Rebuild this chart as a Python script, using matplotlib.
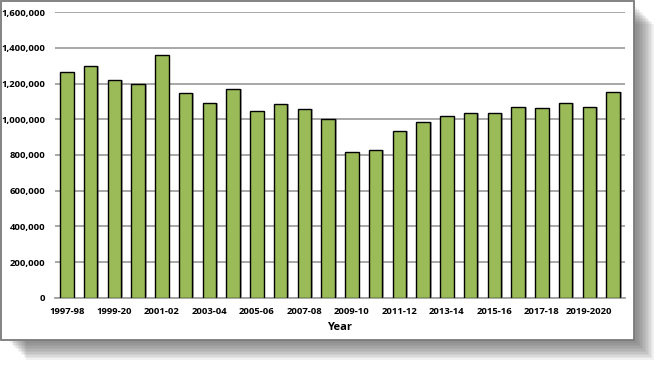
import matplotlib
matplotlib.use("Agg")
import matplotlib.pyplot as plt
from matplotlib.patches import Rectangle
from matplotlib.ticker import FuncFormatter, MultipleLocator

years = ["1997-98", "1998-99", "1999-20", "2000-01", "2001-02", "2002-03", "2003-04",
         "2004-05", "2005-06", "2006-07", "2007-08", "2008-09", "2009-10", "2010-11",
         "2011-12", "2012-13", "2013-14", "2014-15", "2015-16", "2016-17", "2017-18",
         "2018-19", "2019-2020", "2020-21"]
values = [1268000, 1298000, 1218000, 1197000, 1358000, 1150000, 1092000, 1168000,
          1044000, 1085000, 1060000, 1004000, 816000, 830000, 935000, 984000,
          1017000, 1035000, 1038000, 1068000, 1066000, 1090000, 1070000, 1152000]
shown_labels = years[::2]

W, H = 663, 367
fig = plt.figure(figsize=(W / 100, H / 100), dpi=100)
fig.patch.set_facecolor("white")

def fx(px):
    return px / W

def fy(py):
    return 1 - py / H

# card shadow (blurred)
for i in range(12):
    off = 3 + i * 1.5
    fig.patches.append(Rectangle((fx(1 + off + 6), fy(340 + off)), fx(633 - 6), (340 - 4) / H,
                                 transform=fig.transFigure, facecolor="#505050",
                                 edgecolor="none", alpha=0.075, zorder=0))
# card
fig.patches.append(Rectangle((fx(1), fy(340)), fx(633), 340 / H - 0.002,
                             transform=fig.transFigure, facecolor="white",
                             edgecolor="#7a7a7a", linewidth=1.3, zorder=1))

ax = fig.add_axes([fx(55), fy(297.7), fx(625 - 55), (297.7 - 12.3) / H])
ax.set_zorder(2)
ax.patch.set_alpha(0)

x = list(range(len(years)))
ax.bar([xi + 0.07 for xi in x], values, width=0.57, color="#4a4a4a", alpha=0.45,
       edgecolor="none", zorder=2)
ax.bar(x, values, width=0.57, color="#9BBB59", edgecolor="black", linewidth=1.0, zorder=3)

ax.set_xlim(-0.5, len(years) - 0.5)
ax.set_ylim(0, 1600000)
ax.yaxis.set_major_locator(MultipleLocator(200000))
ax.yaxis.set_major_formatter(FuncFormatter(lambda v, p: f"{int(v):,}"))
ax.grid(axis="y", color="#a0a0a0", linewidth=1.3, zorder=0)
ax.set_axisbelow(True)

ax.set_xticks(x[::2])
ax.set_xticklabels(shown_labels)

for s in ["top", "right", "left"]:
    ax.spines[s].set_visible(False)
ax.spines["bottom"].set_color("#a0a0a0")
ax.spines["bottom"].set_linewidth(1.3)

fnt = "Open Sans"
ax.tick_params(axis="both", length=0, labelsize=6.8, colors="black")
ax.tick_params(axis="x", pad=7)
ax.tick_params(axis="y", pad=7)
for lbl in ax.get_xticklabels() + ax.get_yticklabels():
    lbl.set_fontfamily(fnt)
    lbl.set_fontweight("bold")

ax.set_xlabel("Year", fontsize=8, fontweight="bold", family=fnt, labelpad=4)

fig.savefig("out.png", dpi=100, facecolor="white")
